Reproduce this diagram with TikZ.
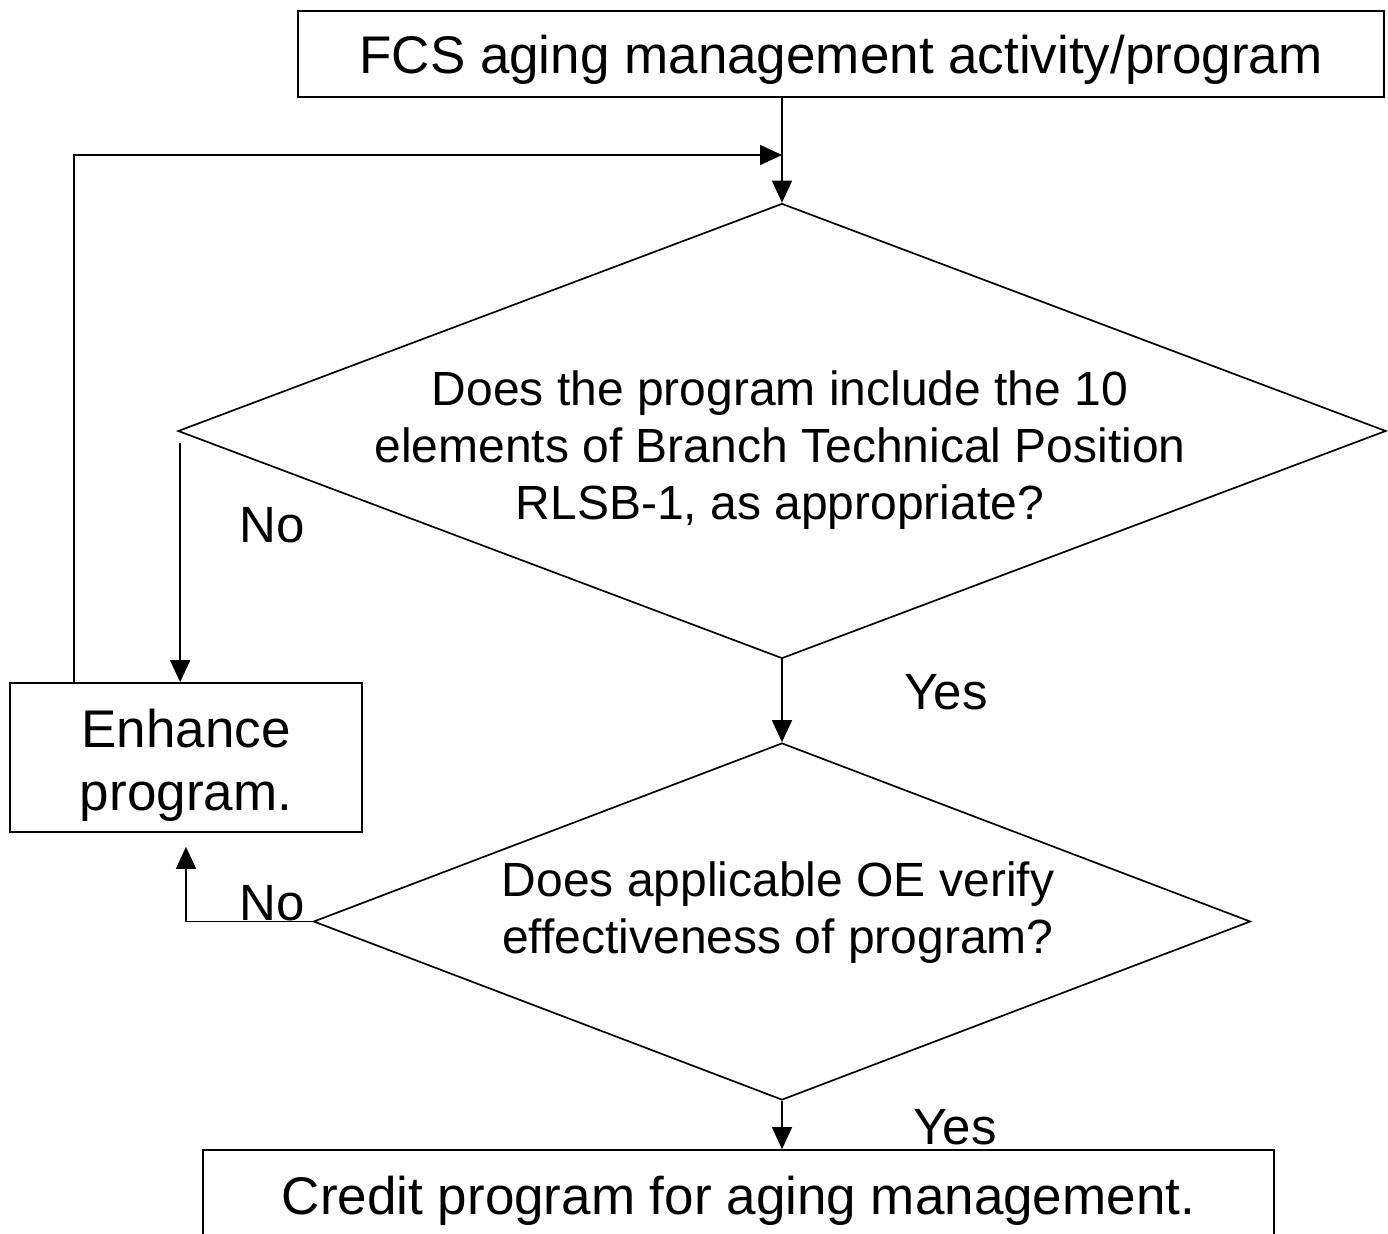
\documentclass[tikz,border=0pt]{standalone}
\usepackage{fontspec}
\setmainfont{Liberation Sans}
\usetikzlibrary{shapes.geometric,arrows.meta}

\tikzset{
  box/.style={draw, line width=1.7pt, align=center, inner sep=0pt,
    font=\fontsize{53}{63}\selectfont},
  decision/.style={draw, diamond, line width=1.7pt, inner sep=0pt, aspect=2.5},
  qtext/.style={align=center, font=\fontsize{48}{57}\selectfont},
  answer/.style={font=\fontsize{51}{60}\selectfont},
  arr/.style={line width=1.7pt, -{Triangle[length=22pt,width=20pt]}}
}

\begin{document}
\begin{tikzpicture}[draw=black, x=1pt, y=-1pt]
\path[use as bounding box, clip] (0,0) rectangle (1388,1233);

\node[box, minimum width=1086pt, minimum height=86pt, text depth=0pt] (start) at (841,54) {FCS aging management activity/program};

\node[decision, minimum width=1208pt, minimum height=455pt] (q1) at (782,431) {};
\node[qtext] (q1txt) at (780,450) {Does the program include the 10\\elements of Branch Technical Position\\RLSB-1, as appropriate?};

\node[decision, minimum width=937pt, minimum height=357pt] (q2) at (782,921.5) {};
\node[qtext] (q2txt) at (778,913) {Does applicable OE verify\\effectiveness of program?};

\node[box, minimum width=352pt, minimum height=149pt] (enh) at (186,757.5) {};
\node[box, draw=none] (enhtxt) at (186,765) {Enhance\\program.};

\node[box, minimum width=1071pt, minimum height=90pt, text depth=0pt] (credit) at (738.5,1195) {Credit program for aging management.};

\coordinate (join) at (782,155);

\draw[line width=1.7pt] (start.south -| q1.north) -- (join);
\draw[arr] (join) -- (q1.north);
\draw[arr] ([xshift=-112pt]enh.north) |- (join);
\draw[arr] ([xshift=3pt,yshift=-12pt]q1.west) -- ([xshift=3pt]q1.west |- enh.north);
\draw[arr] (q1.south) -- (q2.north);
\draw[arr] (q2.west) -| ([yshift=-14pt]enh.south);
\draw[arr] (q2.south) -- (q2.south |- credit.north);

\node[answer] (no1) at (272,525) {No};
\node[answer] (no2) at (272,903) {No};
\node[answer] (yes1) at (946,692) {Yes};
\node[answer] (yes2) at (955,1127) {Yes};
\end{tikzpicture}
\end{document}
